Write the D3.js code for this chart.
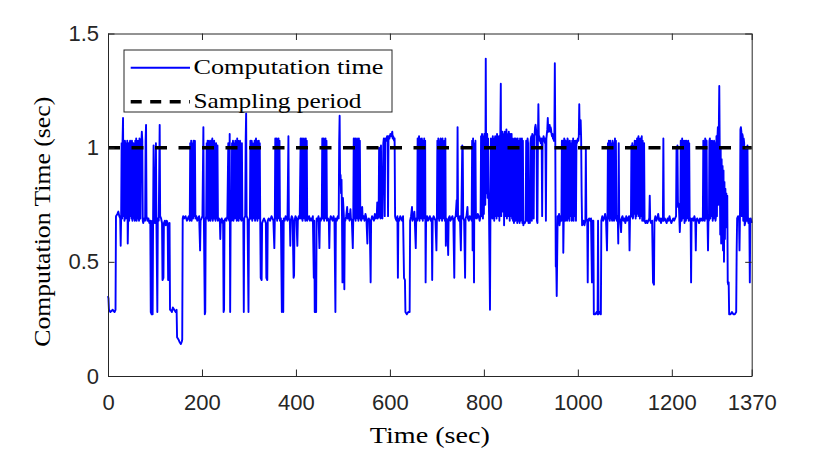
<!DOCTYPE html>
<html>
<head>
<meta charset="utf-8">
<script src="https://cdn.jsdelivr.net/npm/d3@7/dist/d3.min.js"></script>
<style>
  body { margin: 0; background: #fff; }
  .tick text { font-family: "Liberation Sans", Arial, sans-serif; font-size: 22px; fill: #262626; }
  .serif { font-family: "Liberation Serif", "Times New Roman", serif; font-size: 22px; fill: #000; font-weight: normal; }
  .label { font-size: 24px; }
</style>
</head>
<body>
<svg id="chart"></svg>
<script>
// computation time samples: [time (sec), computation time (sec)]
var compTime = [
  [0,0.35],[1,0.34],[2,0.29],[5,0.28],[10,0.29],[14,0.28],[16,0.29],[17,0.70],[20,0.71],[22,0.72],[24,0.70],[26,0.69],
  [27,0.57],[28,0.70],[29,1.02],[30,0.69],[31,1.03],[32,1.13],[33,0.70],[34,1.02],[35,0.68],[36,1.03],[37,1.01],[38,0.69],
  [39,1.02],[40,0.70],[41,1.03],[42,0.58],[43,0.69],[44,1.02],[45,0.68],[46,1.01],[47,1.03],[48,0.70],[49,1.02],[50,0.69],
  [51,1.03],[52,0.68],[53,1.02],[54,1.02],[55,0.69],[56,1.01],[57,0.68],[58,1.03],[59,0.70],[60,1.04],[61,0.68],[62,1.03],
  [63,1.02],[64,0.69],[65,1.03],[66,0.68],[67,1.04],[68,1.03],
  [69,0.69],[70,1.03],[71,1.02],[72,1.07],[73,1.03],[74,0.68],[75,0.67],[77,0.69],[79,0.68],[80,1.03],[81,1.10],[82,0.70],
  [84,0.68],[86,0.69],[88,0.67],[90,0.68],[91,0.28],[93,0.27],[94,0.68],[95,0.27],[96,0.69],[97,1.01],[98,0.68],[100,0.67],
  [102,1.02],[103,0.69],[105,0.28],[106,0.69],[108,0.68],[110,1.10],[111,0.70],[113,0.69],[115,0.67],[116,0.42],[118,0.43],
  [119,0.67],[121,0.68],[123,0.66],[125,0.68],[127,0.67],[128,0.42],[130,0.43],[131,0.67],[132,0.29],[133,0.29],[136,0.28],
  [138,0.30],[141,0.29],[144,0.28],[146,0.29],[147,0.17],[150,0.16],[152,0.15],[155,0.14],[157,0.15],[158,0.16],[159,0.69],
  [160,0.70],[162,0.69],[165,0.70],[168,0.68],[170,0.69],[172,0.70],[174,0.68],
  [175,1.02],[176,0.69],[177,1.03],[178,0.68],[179,1.02],[180,1.01],[181,0.69],[182,1.03],[183,0.70],[184,1.02],[185,1.03],[186,0.69],
  [188,0.70],[190,0.68],[192,0.69],[194,0.70],[196,0.55],[197,0.68],[199,0.69],[201,0.70],[203,1.09],[204,0.70],[206,0.27],
  [207,0.28],[208,0.69],[209,0.70],
  [210,1.02],[211,0.69],[212,1.03],[213,1.02],[214,0.68],[215,1.03],[216,0.70],[217,1.01],[218,0.68],[219,1.03],[220,0.69],
  [221,1.02],[222,1.04],[223,0.68],[224,1.02],[225,0.69],[226,1.03],[227,0.70],[229,0.68],[230,1.02],[231,0.69],[233,1.01],
  [234,0.68],[236,0.69],
  [238,0.68],[239,0.60],[240,0.68],[242,0.69],[244,0.67],[245,0.68],[246,0.28],[247,0.29],[248,0.68],[250,0.69],[252,0.68],
  [254,0.70],[256,1.02],[257,0.69],[258,0.68],[259,1.06],[260,0.28],[261,0.69],[263,0.68],
  [264,1.02],[265,0.69],[266,1.03],[267,0.68],[268,1.02],[269,1.01],[270,0.69],[271,1.03],[272,0.70],[273,1.02],[274,0.68],
  [275,1.04],[276,0.69],[277,1.03],[278,0.68],[279,1.02],[280,0.70],[281,1.03],[282,0.69],
  [284,0.68],[285,1.02],[286,0.69],[288,0.68],[289,0.28],[290,0.69],[292,0.70],[293,1.03],[294,1.15],[295,0.70],[297,0.69],
  [299,0.28],[300,0.68],[302,0.69],
  [303,1.03],[304,0.69],[305,1.02],[306,1.03],[307,0.68],[308,1.02],[309,0.70],[310,1.01],[311,0.69],[312,1.03],[313,0.68],
  [314,1.02],[315,1.04],[316,0.69],[317,1.03],[318,0.68],[319,1.02],[320,0.70],[321,1.03],[322,0.69],[323,1.02],[324,0.68],
  [325,0.43],[327,0.42],[328,0.67],[330,0.68],[332,0.69],[334,0.68],[336,0.67],[337,0.43],[339,0.42],[340,0.68],[342,0.69],
  [345,0.68],[348,0.70],[350,0.69],[352,0.68],[354,0.56],[355,0.68],
  [356,1.04],[357,0.69],[358,1.03],[359,1.04],[360,0.68],[361,1.03],[362,0.70],[363,1.04],[364,0.69],[365,1.03],[366,0.68],
  [368,0.69],[370,0.28],[371,0.29],[372,0.68],[373,0.28],[374,0.69],[376,0.68],[378,0.70],[380,0.69],[382,0.68],[384,1.05],
  [385,0.69],[387,0.68],[388,0.57],[389,0.68],[391,0.70],[393,0.69],[395,0.43],[396,0.44],[397,0.68],[399,0.70],[401,0.69],
  [403,0.57],[404,0.68],[406,0.70],[408,0.69],
  [410,1.04],[411,0.69],[412,1.03],[413,1.04],[414,0.68],[415,1.02],[416,0.70],[417,1.04],[418,0.69],[419,1.03],[420,0.68],
  [421,1.04],[422,0.69],[423,1.03],[424,0.68],
  [426,0.69],[428,0.70],[430,0.68],[432,0.69],[434,0.68],[436,0.70],[438,0.43],[439,0.68],[440,0.28],[443,0.28],[444,0.69],
  [446,0.68],[448,0.70],[450,0.56],[451,0.69],[453,0.68],[455,0.70],
  [456,1.04],[457,0.69],[458,1.03],[459,1.04],[460,0.68],[461,1.02],[462,0.70],[463,1.04],[464,0.69],[465,1.03],[466,0.68],
  [468,0.69],[470,0.68],[471,0.56],[472,0.68],[474,0.70],[476,0.69],[478,0.68],[480,0.70],[482,0.68],[484,0.28],[485,0.69],
  [487,0.68],[489,0.70],[491,0.69],[492,1.02],[493,1.14],[494,0.84],[495,0.88],[496,0.80],[497,0.86],[498,0.70],[499,0.41],
  [500,0.78],[501,0.74],[502,0.70],[503,0.38],[504,0.69],[505,0.68],
  [507,0.70],[509,0.74],[510,0.69],[512,0.71],[514,0.68],[516,0.73],[517,0.69],[519,0.68],[521,0.56],[522,0.69],
  [523,1.04],[524,0.69],[525,1.03],[526,1.04],[527,0.68],[528,1.03],[529,0.70],[530,1.04],[531,0.69],[532,1.02],[533,0.68],
  [534,1.04],[535,0.70],[536,1.03],[537,0.69],
  [539,0.68],[541,0.74],[542,0.69],[544,0.70],[546,0.68],[548,0.71],[550,0.69],[552,0.58],[553,0.68],[555,0.69],[557,0.68],
  [559,0.41],[560,0.68],[562,0.70],[564,0.69],[566,0.68],[568,0.71],[570,0.69],[572,0.70],[573,0.76],[574,0.69],[576,0.70],
  [577,1.00],[578,0.70],[580,0.69],[581,1.01],[582,0.70],[584,0.69],[586,1.02],[587,1.04],[588,1.03],[589,0.70],[590,1.04],
  [592,1.03],[594,1.05],[595,1.04],[596,0.70],[597,1.05],[599,1.04],[601,1.06],[603,1.05],[605,1.07],[606,1.04],[607,1.05],
  [609,1.03],[610,1.04],[611,0.70],
  [612,0.69],[614,0.68],[616,0.70],[617,0.43],[618,0.69],[620,0.68],[622,0.70],[624,0.69],[626,0.68],[628,0.70],[630,0.43],
  [632,0.42],[633,0.28],[636,0.27],[639,0.28],[642,0.28],[643,0.68],
  [645,0.70],[647,0.74],[648,0.68],[650,0.69],[652,0.72],[653,0.68],[655,0.56],[656,0.69],[658,0.68],
  [659,1.04],[660,0.69],[661,1.03],[662,1.05],[663,0.68],[664,1.04],[665,0.70],[666,1.03],[667,0.69],[668,1.04],[669,1.02],
  [670,0.68],[671,1.03],[672,0.70],[673,1.04],[674,0.69],[675,1.03],[676,0.41],[677,0.69],
  [679,0.70],[681,0.68],[683,0.69],[685,0.70],[687,0.68],[689,0.69],[690,0.42],[691,0.68],[693,0.70],[695,0.69],[697,0.68],
  [699,0.55],[700,0.69],
  [701,1.03],[702,0.69],[703,1.04],[704,1.03],[705,0.68],[706,1.02],[707,0.70],[708,1.04],[709,0.69],[710,1.03],[711,0.68],
  [712,1.04],[713,0.70],[714,1.02],[715,0.69],[716,1.03],[717,0.68],[718,1.04],
  [719,0.57],[720,0.69],[722,0.68],[724,0.53],[725,0.69],[727,0.70],[729,0.68],[731,0.69],[733,0.70],[735,0.68],[737,0.43],
  [738,0.69],[740,0.70],[742,0.77],[743,0.70],[744,1.09],[745,0.69],[747,0.68],[749,0.70],[751,0.55],[752,0.69],[754,1.01],
  [755,1.00],[756,0.69],[758,0.68],[760,0.43],[761,0.69],[763,0.70],[765,0.74],[766,0.69],[768,0.68],[770,0.70],[772,0.69],
  [774,0.68],[775,1.03],[776,0.55],[777,1.04],[778,0.70],[779,0.41],[780,1.02],[781,0.69],[782,1.03],[783,0.70],
  [785,0.69],[787,0.71],[789,0.70],[791,0.68],[793,0.70],
  [794,1.05],[795,0.70],[796,1.06],[797,1.04],[798,0.69],[799,1.05],[800,0.71],[801,1.06],[802,1.05],[803,0.75],[804,1.39],
  [805,0.80],[806,1.05],[807,1.06],[808,0.78],[809,1.04],[810,0.82],[811,0.70],[813,0.29],[814,0.72],
  [815,1.04],[816,0.70],[817,1.03],[818,0.69],[819,1.05],[820,0.71],[821,1.04],[822,0.68],[823,1.03],[824,1.05],[825,0.70],
  [826,1.04],[827,0.69],[828,1.06],[829,0.72],[830,1.04],[831,0.70],[832,1.05],[833,0.68],[834,1.04],[835,1.06],[836,1.28],
  [837,0.70],[838,1.06],[839,1.07],[840,0.72],[841,1.06],[842,1.05],[843,0.66],[844,1.07],[845,1.06],[846,0.70],[847,1.05],
  [848,1.08],[849,0.69],[850,1.06],[851,1.05],[852,0.70],[853,1.07],[854,1.04],[855,0.68],[856,1.06],[857,0.70],[858,1.05],
  [859,1.06],[860,0.69],
  [861,1.04],[862,0.68],[863,1.03],[864,0.67],[865,1.04],[866,1.03],[867,0.68],[868,1.04],[869,0.69],[870,1.03],[871,0.67],
  [872,1.04],[873,0.68],[874,1.03],[875,1.02],[876,0.67],[877,1.04],[878,0.68],[879,1.03],[880,0.69],[881,1.04],[882,0.67],
  [883,1.03],[884,0.66],[885,0.67],
  [887,0.67],[889,0.68],[890,1.03],[891,1.02],[892,0.68],[893,1.04],[894,1.02],[895,0.67],[897,0.68],[898,0.67],[899,1.02],
  [900,1.04],[901,1.05],[902,0.68],[903,1.06],[904,1.05],[905,1.04],[906,0.69],[907,1.05],[908,1.06],[909,1.09],[910,1.10],
  [911,1.08],[912,1.05],[913,0.68],[914,0.67],[915,1.04],[916,1.19],[917,1.04],[918,1.05],[919,1.03],[920,1.04],
  [921,1.02],[922,1.04],[923,1.03],[924,0.70],[925,1.04],[926,1.03],[927,1.05],[928,1.04],[929,1.03],[930,1.02],[931,1.04],
  [932,0.68],[933,1.04],[934,1.06],[935,1.08],[936,1.13],[937,1.07],[938,1.09],[939,1.08],[940,1.10],[941,1.07],[942,1.09],
  [943,1.08],[944,1.06],[945,1.05],[946,1.06],[947,1.04],[948,1.05],[949,1.03],[950,1.06],[951,1.37],[952,1.02],[953,0.48],
  [954,0.50],[955,0.35],[956,0.52],[957,0.70],
  [959,0.69],[960,0.71],[961,0.66],[963,0.70],[965,0.68],[966,1.03],[967,0.69],[968,1.03],[969,0.54],[970,0.69],[971,1.04],
  [972,1.03],[973,0.68],[974,1.03],[975,0.70],[976,1.02],[977,0.68],[978,1.04],[979,1.03],[980,0.69],[981,1.02],[982,0.68],
  [983,1.03],[984,0.70],[985,1.02],[986,1.01],[987,0.68],[988,1.03],[989,0.69],[990,1.04],[991,0.68],[992,1.03],[993,0.70],
  [994,1.02],[995,1.03],[996,0.68],[997,1.03],
  [998,1.02],[999,1.03],[1000,1.04],[1001,1.03],[1002,1.05],[1003,1.19],[1004,1.06],[1005,1.08],[1006,1.12],[1007,1.04],
  [1008,0.80],[1009,0.66],[1010,0.67],[1012,0.68],[1014,0.66],[1016,0.68],[1017,1.00],[1018,0.69],[1020,0.68],[1021,0.41],
  [1022,0.68],[1024,0.69],[1026,0.68],[1028,0.69],[1030,0.41],[1031,0.68],
  [1033,0.68],[1034,0.27],[1037,0.27],[1040,0.28],[1042,0.27],[1043,0.68],[1044,0.27],[1047,0.28],[1049,0.27],[1050,0.68],
  [1052,0.70],[1054,0.68],[1056,0.69],[1058,0.71],[1060,0.68],[1062,0.55],[1063,0.69],
  [1064,1.02],[1065,0.69],[1066,1.03],[1067,1.02],[1068,0.68],[1069,1.03],[1070,0.70],[1071,1.02],[1072,0.69],[1073,0.68],
  [1074,1.03],[1075,1.02],[1076,0.70],[1077,0.68],[1078,0.69],[1079,1.04],[1080,0.70],[1081,1.03],[1082,0.69],[1083,0.68],
  [1084,0.70],[1085,0.69],[1086,0.58],[1087,1.02],[1088,0.69],
  [1090,0.68],[1092,0.63],[1093,0.69],[1095,0.70],[1097,0.68],[1099,0.69],[1101,0.67],[1103,0.70],[1105,0.68],[1107,0.69],
  [1109,0.70],[1110,0.55],[1111,0.69],[1113,0.70],
  [1114,1.01],[1115,0.70],[1116,1.02],[1117,0.69],[1118,0.70],[1119,1.01],[1120,0.71],[1121,1.03],[1122,1.02],[1123,0.69],
  [1124,1.03],[1125,0.70],[1126,1.04],[1127,0.71],[1128,1.03],[1129,1.05],[1130,0.70],[1131,1.03],[1132,0.69],[1133,1.04],
  [1134,1.02],[1135,0.70],[1136,1.05],[1137,0.68],[1138,1.03],[1139,0.69],[1140,0.68],[1141,1.02],
  [1142,0.68],[1144,0.67],[1146,0.68],[1148,0.67],[1150,0.68],[1152,0.69],[1153,0.79],[1154,0.68],[1156,0.67],[1158,0.68],
  [1160,0.41],[1162,0.40],[1163,0.68],[1165,0.70],[1167,0.68],[1169,0.69],[1171,0.71],[1173,0.68],[1175,0.69],[1177,0.67],
  [1179,0.69],[1181,0.68],[1182,1.04],[1183,0.68],
  [1185,0.69],[1187,0.68],[1189,0.67],[1191,0.69],[1193,0.68],[1195,0.70],[1197,0.68],[1199,0.67],[1201,0.68],[1203,0.69],
  [1205,0.68],[1207,0.69],[1209,0.70],
  [1210,1.00],[1211,0.74],[1212,1.01],[1213,0.76],[1215,0.75],[1217,0.63],[1218,0.69],[1219,1.03],[1220,1.02],[1221,0.68],
  [1222,1.04],[1223,0.69],[1224,1.03],[1225,0.70],[1226,1.03],[1227,0.67],[1228,1.02],[1229,1.03],[1230,0.68],[1231,1.03],
  [1232,0.69],[1233,1.02],[1234,0.70],[1235,1.03],[1236,0.68],[1237,1.02],[1238,0.69],[1239,0.68],[1240,0.69],[1241,0.41],
  [1242,0.68],
  [1244,0.69],[1246,0.68],[1248,0.70],[1250,0.68],[1251,0.55],[1252,0.68],[1254,0.69],[1256,0.68],[1258,0.67],[1260,0.69],
  [1262,0.68],[1264,0.69],[1266,0.68],
  [1267,1.03],[1268,0.69],[1269,1.02],[1270,0.68],[1271,1.04],[1272,1.03],[1273,0.69],[1274,1.03],[1275,0.70],[1276,0.68],
  [1277,0.55],[1278,0.69],[1279,0.68],[1280,1.03],[1281,1.04],[1282,0.69],[1283,1.03],[1284,0.70],[1285,1.02],[1286,1.03],
  [1287,0.68],[1288,1.02],[1289,0.69],[1290,1.03],[1291,1.02],[1292,0.70],
  [1293,0.68],[1294,0.70],[1295,1.05],[1296,0.70],[1297,1.04],[1298,1.09],[1299,0.75],[1300,1.08],[1301,1.27],[1302,0.98],
  [1303,0.62],[1304,1.00],[1305,0.58],[1306,0.95],[1307,0.70],[1308,0.92],[1309,0.55],[1310,0.90],[1311,0.50],[1312,0.85],
  [1313,0.60],[1314,0.82],[1315,0.70],[1316,0.80],[1317,0.65],[1318,0.79],[1319,0.41],
  [1320,0.40],[1321,0.41],[1322,0.27],[1325,0.27],[1328,0.28],[1331,0.27],[1334,0.27],[1337,0.28],[1338,0.55],[1339,0.69],
  [1341,0.70],[1343,0.69],[1344,0.55],[1345,0.69],
  [1346,1.08],[1347,1.09],[1348,1.07],[1349,0.70],[1350,1.06],[1351,1.05],[1352,0.68],[1353,1.04],[1354,1.02],[1355,0.66],
  [1356,0.67],[1357,0.68],[1358,1.00],[1359,0.69],[1360,0.68],[1361,1.01],[1362,0.69],[1363,0.67],[1364,0.69],[1365,0.68],
  [1366,0.41],[1367,0.68],[1368,0.69],[1369,0.68],[1370,0.67]
];
var samplingPeriod = 1;
var timeRange = [0, 1370];
var xTicks = [0, 200, 400, 600, 800, 1000, 1200, 1370];
var yTicks = [0, 0.5, 1, 1.5];
var legendLabels = ['Computation time', 'Sampling period'];
var xLabel = 'Time (sec)', yLabel = 'Computation Time (sec)';

var full_width = 830, full_height = 451;
var margin = {top: 33.5, right: 78.3, bottom: 75, left: 108},
    width = full_width - margin.left - margin.right,
    height = full_height - margin.top - margin.bottom;
var axisColor = '#262626';

var svg = d3.select('#chart')
    .attr('width', full_width)
    .attr('height', full_height),
  g = svg.append('g').attr('transform', 'translate(' + margin.left + ',' + margin.top + ')');

var x = d3.scaleLinear().domain(timeRange).range([0, width]);
var y = d3.scaleLinear().domain([0, 1.5]).range([height, 0]);

// computation time line
var line = d3.line()
    .x(function(d) { return x(d[0]); })
    .y(function(d) { return y(d[1]); });

g.append('path')
  .datum(compTime)
  .attr('fill', 'none')
  .attr('stroke', '#0000ff')
  .attr('stroke-width', 1.9)
  .attr('stroke-linejoin', 'round')
  .attr('d', line);

// sampling period (dashed)
g.append('path')
  .datum(timeRange.map(function(t) { return [t, samplingPeriod]; }))
  .attr('fill', 'none')
  .attr('stroke', '#000')
  .attr('stroke-width', 3.5)
  .attr('stroke-dasharray', '12,11.5')
  .attr('d', line);

// axes, ticks inward on all four sides
function styleAxis(sel) {
  sel.select('.domain').attr('stroke', axisColor).attr('stroke-width', 1);
  sel.selectAll('.tick line').attr('stroke', axisColor).attr('stroke-width', 1);
}
var tick = 6.5;
g.append('g')
  .attr('transform', 'translate(0,' + height + ')')
  .call(d3.axisBottom(x).tickValues(xTicks).tickSizeInner(-tick).tickSizeOuter(0).tickPadding(18).tickFormat(d3.format('d')))
  .call(styleAxis);
g.append('g')
  .call(d3.axisTop(x).tickValues(xTicks).tickSizeInner(-tick).tickSizeOuter(0).tickFormat(''))
  .call(styleAxis);
g.append('g')
  .call(d3.axisLeft(y).tickValues(yTicks).tickSizeInner(-tick).tickSizeOuter(0).tickPadding(9).tickFormat(d3.format('')))
  .call(styleAxis);
g.append('g')
  .attr('transform', 'translate(' + width + ',0)')
  .call(d3.axisRight(y).tickValues(yTicks).tickSizeInner(-tick).tickSizeOuter(0).tickFormat(''))
  .call(styleAxis);
g.selectAll('.tick text').attr('font-family', null).attr('font-size', null);

// axis labels
svg.append('text')
  .attr('class', 'serif label')
  .attr('x', margin.left + width / 2)
  .attr('y', 443)
  .attr('text-anchor', 'middle')
  .attr('textLength', 120)
  .attr('lengthAdjust', 'spacingAndGlyphs')
  .text(xLabel);
svg.append('text')
  .attr('class', 'serif label')
  .attr('transform', 'translate(50,' + (margin.top + height / 2 + 17) + ') rotate(-90)')
  .attr('text-anchor', 'middle')
  .attr('textLength', 250)
  .attr('lengthAdjust', 'spacingAndGlyphs')
  .text(yLabel);

// legend
var legend = svg.append('g').attr('transform', 'translate(124,50)');
legend.append('rect')
  .attr('width', 268).attr('height', 62)
  .attr('fill', '#fff').attr('stroke', axisColor).attr('stroke-width', 1);
var legendStyles = [
  {stroke: '#0000ff', width: 1.9, dash: null, len: 190},
  {stroke: '#000', width: 3.5, dash: '11,8.5', len: 168}
];
legendLabels.forEach(function(label, i) {
  var cy = 17.7 + i * 34;
  legend.append('line')
    .attr('x1', 6.7).attr('x2', 66).attr('y1', cy).attr('y2', cy)
    .attr('stroke', legendStyles[i].stroke)
    .attr('stroke-width', legendStyles[i].width)
    .attr('stroke-dasharray', legendStyles[i].dash);
  legend.append('text')
    .attr('class', 'serif')
    .attr('x', 69.5).attr('y', cy + 6.5)
    .attr('textLength', legendStyles[i].len)
    .attr('lengthAdjust', 'spacingAndGlyphs')
    .text(label);
});
</script>
</body>
</html>
